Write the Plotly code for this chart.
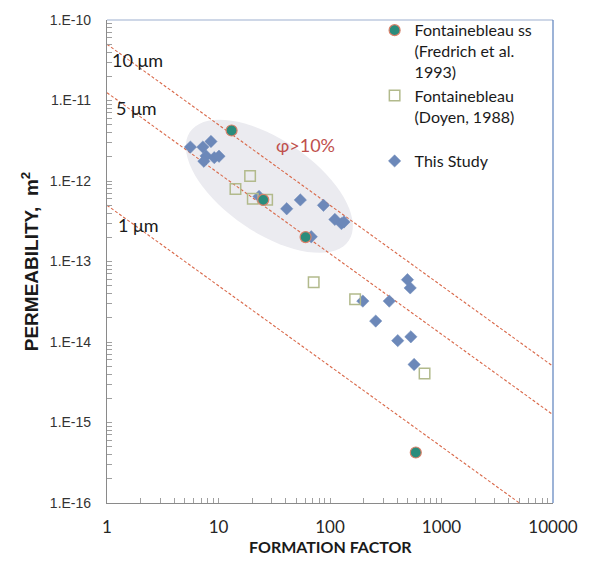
import math
import plotly.graph_objects as go

# ---------------- data ----------------
fred_F = [13.1, 25.2, 60.4, 588]
fred_k = [4.24e-12, 5.83e-13, 2.01e-13, 4.24e-16]

doyen_F = [19.2, 14.2, 20.3, 27.3, 71.4, 168, 705]
doyen_k = [1.15e-12, 7.96e-13, 6.0e-13, 5.83e-13, 5.52e-14, 3.39e-14, 4.05e-15]

study_F = [5.60, 7.24, 8.56, 7.74, 7.39, 9.17, 10.1, 23.1, 40.9, 54.2, 87.4,
           110.6, 126.7, 133.5, 67.9, 495, 524, 197, 340, 257, 405, 531, 568]
study_k = [2.64e-12, 2.64e-12, 3.10e-12, 2.05e-12, 1.76e-12, 1.95e-12, 2.03e-12,
           6.43e-13, 4.52e-13, 5.82e-13, 4.99e-13, 3.33e-13, 2.96e-13, 3.10e-13,
           2.03e-13, 5.95e-14, 4.70e-14, 3.22e-14, 3.22e-14, 1.82e-14, 1.04e-14,
           1.16e-14, 5.26e-15]

pore_radius_um = [10, 5, 1]
pore_labels = ["10 \u03bcm", "5 \u03bcm", "1 \u03bcm"]
line_F = [1, 10000]

x_tickvals = [1, 10, 100, 1000, 10000]
x_ticktext = ["1", "10", "100", "1000", "10000"]
y_tickvals = [1e-16, 1e-15, 1e-14, 1e-13, 1e-12, 1e-11, 1e-10]
y_ticktext = ["1.E-16", "1.E-15", "1.E-14", "1.E-13", "1.E-12", "1.E-11", "1.E-10"]

# ---------------- layout constants ----------------
W, H = 590, 564
L, R, T, B = 107, 27, 15, 61
PW, PH = W - L - R, H - T - B

fig = go.Figure()

# ellipse (phi > 10% region), drawn in paper coordinates
cx, cy, a, b, ang = 273, 183, 98, 47, math.radians(34)
pts = []
for i in range(73):
    t = 2 * math.pi * i / 72
    px = cx + a * math.cos(t) * math.cos(ang) - b * math.sin(t) * math.sin(ang)
    py = cy + a * math.cos(t) * math.sin(ang) + b * math.sin(t) * math.cos(ang)
    pts.append(((px - L) / PW, (H - B - py) / PH))
path = "M " + " L ".join(f"{x:.5f},{y:.5f}" for x, y in pts) + " Z"
fig.add_shape(type="path", path=path, xref="paper", yref="paper",
              fillcolor="#ebebf0", line=dict(width=0), layer="below")

# capillary lines k = r^2 / (2F)
for r in pore_radius_um:
    fig.add_trace(go.Scatter(
        x=line_F, y=[(r * 1e-6) ** 2 / (2 * f) for f in line_F],
        mode="lines", line=dict(color="#d9694a", width=1.1, dash="3px,2px"),
        showlegend=False, hoverinfo="skip"))

fig.add_trace(go.Scatter(
    x=study_F, y=study_k, mode="markers", name="This Study",
    marker=dict(symbol="diamond", size=9.5, color="#6c88b9",
                line=dict(width=0.5, color="#6c88b9"))))
fig.add_trace(go.Scatter(
    x=doyen_F, y=doyen_k, mode="markers",
    name="Fontainebleau<br>(Doyen, 1988)<br>\u00a0",
    marker=dict(symbol="square-open", size=10.5, color="#b2ba8c",
                line=dict(width=1.5, color="#b2ba8c"))))
fig.add_trace(go.Scatter(
    x=fred_F, y=fred_k, mode="markers",
    name="Fontainebleau ss<br>(Fredrich et al.<br>1993)",
    marker=dict(symbol="circle", size=11, color="#2a8c7c",
                line=dict(width=1.2, color="#d9806a"))))

# line labels
label_pos = [(0.27, -10.50), (0.265, -11.09), (0.285, -12.55)]
for txt, (lx, ly) in zip(pore_labels, label_pos):
    fig.add_annotation(x=lx, y=ly, xref="x", yref="y", text=txt, showarrow=False,
                       font=dict(family="Lato", size=18, color="#1a1a1a"))
fig.add_annotation(x=1.781, y=-11.55, xref="x", yref="y", text="\u03c6>10%",
                   showarrow=False, font=dict(family="Lato", size=18, color="#c0504d"))

# axis titles
fig.add_annotation(x=(28 - L) / PW, y=0.5, xref="paper", yref="paper",
                   xanchor="center", yanchor="middle",
                   text="<b>PERMEABILITY,  m<sup>2</sup></b>", textangle=-90,
                   showarrow=False, font=dict(family="Liberation Sans", size=19, color="#1a1a1a"))
fig.add_annotation(x=0.5, y=-0.09, xref="paper", yref="paper", yanchor="middle",
                   text="<b>FORMATION FACTOR</b>", showarrow=False,
                   font=dict(family="Lato", size=16, color="#1a1a1a"))

# top and right borders of the plot area
fig.add_shape(type="line", xref="paper", yref="paper", x0=0, x1=1, y0=1, y1=1,
              line=dict(color="#9db0cf", width=1.2))
fig.add_shape(type="line", xref="paper", yref="paper", x0=1, x1=1, y0=0, y1=1,
              line=dict(color="#5b80bd", width=1.2))

x_minor = [m * 10 ** e for e in range(0, 4) for m in range(2, 10)]
y_minor = [m * 10.0 ** e for e in range(-16, -10) for m in range(2, 10)]

fig.update_xaxes(type="log", range=[0, 4], tickvals=x_tickvals, ticktext=x_ticktext,
                 showgrid=False, zeroline=False, showline=True, linecolor="#8a8a8a",
                 linewidth=1.2, ticks="inside", ticklen=5, tickcolor="#a0a0a0",
                 tickfont=dict(family="Lato", size=17, color="#262626"), ticklabelstandoff=8,
                 minor=dict(tickvals=x_minor, ticks="inside", ticklen=5, tickcolor="#a0a0a0",
                            showgrid=False))
fig.update_yaxes(type="log", range=[-16, -10], tickvals=y_tickvals, ticktext=y_ticktext,
                 showgrid=False, zeroline=False, showline=True, linecolor="#8a8a8a",
                 linewidth=1.2, ticks="inside", ticklen=5, tickcolor="#a0a0a0",
                 tickfont=dict(family="Liberation Sans", size=14, color="#333333"),
                 ticklabelstandoff=12,
                 minor=dict(tickvals=y_minor, ticks="inside", ticklen=5, tickcolor="#a0a0a0",
                            showgrid=False))

fig.update_layout(
    width=W, height=H, margin=dict(l=L, r=R, t=T, b=B),
    paper_bgcolor="white", plot_bgcolor="white",
    legend=dict(x=0.6, y=1.014, xanchor="left", yanchor="top", traceorder="reversed",
                valign="top", bgcolor="rgba(0,0,0,0)", tracegroupgap=0,
                itemwidth=30, font=dict(family="Lato", size=16, color="#1a1a1a")),
    showlegend=True,
)

fig.write_html("out.html")
